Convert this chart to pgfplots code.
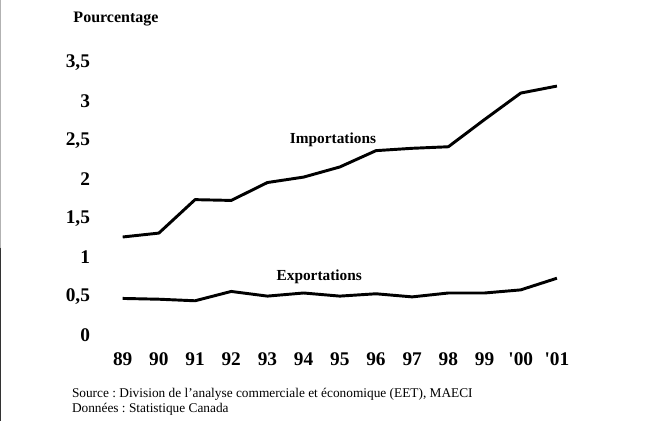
\documentclass[border=0pt]{standalone}
\usepackage{fontspec}
\setmainfont{Liberation Serif}
\usepackage{pgfplots}
\pgfplotsset{compat=1.18}
\frenchspacing
\begin{document}
\begin{tikzpicture}
\path[use as bounding box] (0,0) rectangle (491.25pt,315.75pt);
\draw[gray!60, line width=1.1pt] (0.5pt,315.75pt) -- (0.5pt,130pt);
\draw[black!80, line width=1.1pt] (0.5pt,130pt) -- (0.5pt,0pt);
\begin{axis}[
  at={(92pt,64.5pt)}, anchor=south west,
  scale only axis, width=325.7pt, height=204.2pt,
  xmin=0, xmax=12, ymin=0, ymax=3.5,
  axis line style={draw=none},
  major tick length=0pt,
  xtick={0,...,12},
  xticklabels={89,90,91,92,93,94,95,96,97,98,99,\textquotesingle00,\textquotesingle01},
  ytick={0,0.5,1,1.5,2,2.5,3,3.5},
  yticklabels={0,{0,5},1,{1,5},2,{2,5},3,{3,5}},
  xticklabel style={font=\fontsize{14.5}{16}\selectfont\bfseries, yshift=-10pt},
  yticklabel style={font=\fontsize{14.5}{16}\selectfont\bfseries, anchor=east, xshift=-21pt},
  clip=false,
]
\addplot[black, line width=2.2pt, line join=round] coordinates {
  (0,1.26) (1,1.31) (2,1.74) (3,1.73) (4,1.96) (5,2.03) (6,2.16)
  (7,2.37) (8,2.40) (9,2.42) (10,2.77) (11,3.11) (12,3.20)};
\addplot[black, line width=2.2pt, line join=round] coordinates {
  (0,0.47) (1,0.46) (2,0.44) (3,0.56) (4,0.50) (5,0.54) (6,0.50)
  (7,0.53) (8,0.49) (9,0.54) (10,0.54) (11,0.58) (12,0.73)};
\end{axis}
\node[font=\fontsize{12}{14}\selectfont\bfseries, anchor=base] at (87pt,299pt) {Pourcentage};
\node[font=\fontsize{11.5}{13}\selectfont\bfseries, anchor=base] at (249.75pt,207.75pt) {Importations};
\node[font=\fontsize{11.5}{13}\selectfont\bfseries, anchor=base] at (239.4pt,105.75pt) {Exportations};
\node[font=\fontsize{10}{12}\selectfont, anchor=base west, inner sep=0pt] at (53.8pt,17.8pt) {Source : Division de l'analyse commerciale et économique (EET), MAECI};
\node[font=\fontsize{10}{12}\selectfont, anchor=base west, inner sep=0pt] at (53.8pt,6.5pt) {Données : Statistique Canada};
\end{tikzpicture}
\end{document}
